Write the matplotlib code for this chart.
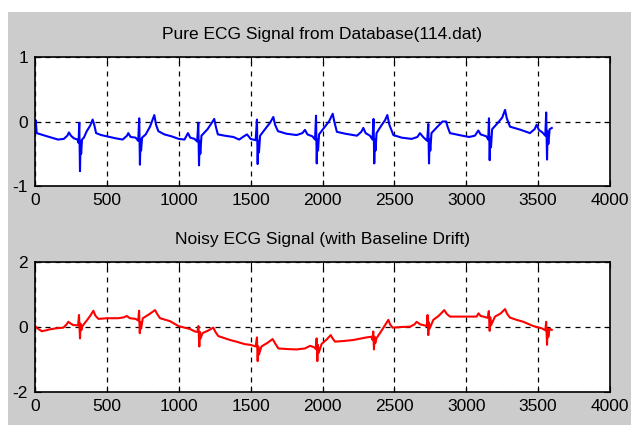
import matplotlib
matplotlib.use("Agg")
import matplotlib.pyplot as plt
from matplotlib.patches import Rectangle

# vertices (sample index, amplitude)
pure_x = [0, 5, 12, 40, 70, 100, 130, 160, 200, 225, 236, 250, 270, 295, 303, 308, 313, 317, 321, 327,
          340, 360, 385, 401, 412, 425, 460, 500, 560, 610, 640, 649, 665, 700, 718, 725, 730, 734, 738, 745,
          770, 800, 830, 842, 858, 900, 950, 1000, 1040, 1064, 1080, 1110, 1128, 1136, 1141, 1145, 1150, 1158,
          1200, 1230, 1247, 1258, 1272, 1320, 1380, 1420, 1460, 1475, 1500, 1535, 1544, 1549, 1553, 1558, 1566,
          1600, 1635, 1658, 1670, 1690, 1750, 1820, 1860, 1878, 1895, 1930, 1948, 1955, 1960, 1964, 1969, 1976,
          2010, 2045, 2071, 2082, 2100, 2160, 2240, 2270, 2284, 2300, 2330, 2348, 2355, 2360, 2364, 2369, 2376,
          2410, 2435, 2451, 2465, 2493, 2550, 2620, 2660, 2678, 2700, 2728, 2736, 2741, 2745, 2750, 2758,
          2800, 2835, 2860, 2870, 2887, 2950, 3020, 3060, 3084, 3100, 3140, 3153, 3158, 3163, 3167, 3172, 3180,
          3220, 3250, 3270, 3282, 3304, 3380, 3443, 3475, 3490, 3505, 3530, 3550, 3556, 3562, 3566, 3571, 3580,
          3595]
pure_y = [0.00, 0.02, -0.18, -0.20, -0.22, -0.24, -0.26, -0.28, -0.27, -0.22, -0.17, -0.22, -0.26, -0.28,
          -0.33, -0.02, -0.77, -0.30, -0.50, -0.28,
          -0.25, -0.15, -0.06, 0.03, -0.05, -0.18, -0.21, -0.23, -0.26, -0.28, -0.22, -0.18, -0.24, -0.25,
          -0.30, 0.05, -0.67, -0.28, -0.45, -0.25,
          -0.20, -0.08, 0.10, -0.05, -0.15, -0.20, -0.23, -0.27, -0.28, -0.18, -0.25, -0.27, -0.31, -0.02,
          -0.68, -0.30, -0.50, -0.22,
          -0.12, -0.02, 0.04, -0.08, -0.20, -0.22, -0.24, -0.28, -0.22, -0.20, -0.27, -0.29, 0.03, -0.66,
          -0.30, -0.48, -0.22,
          -0.12, -0.02, 0.07, -0.05, -0.15, -0.19, -0.21, -0.18, -0.13, -0.20, -0.23, -0.28, 0.09, -0.65,
          -0.28, -0.45, -0.20,
          -0.10, 0.00, 0.12, 0.00, -0.16, -0.19, -0.22, -0.16, -0.10, -0.18, -0.22, -0.28, 0.04, -0.65,
          -0.28, -0.45, -0.18,
          -0.06, 0.02, 0.10, -0.05, -0.21, -0.25, -0.27, -0.24, -0.18, -0.24, -0.30, -0.04, -0.65, -0.28,
          -0.45, -0.18,
          -0.08, 0.00, 0.00, -0.08, -0.18, -0.21, -0.24, -0.22, -0.14, -0.20, -0.23, -0.28, 0.05, -0.60,
          -0.25, -0.40, -0.12,
          -0.02, 0.06, 0.18, 0.05, -0.08, -0.13, -0.18, -0.12, -0.05, -0.13, -0.17, -0.22, 0.14, -0.59,
          -0.15, -0.35, -0.12,
          -0.10]

noisy_x = [0, 20, 47, 80, 104, 150, 197, 220, 232, 250, 266, 300, 306, 313, 317, 322, 330,
           360, 385, 406, 420, 441, 500, 580, 620, 638, 660, 700, 718, 724, 729, 733, 738, 750,
           790, 835, 850, 870, 939, 997, 1040, 1078, 1113, 1130, 1137, 1143, 1147, 1152, 1165,
           1200, 1240, 1255, 1275, 1357, 1400, 1461, 1500, 1535, 1544, 1549, 1553, 1558, 1575,
           1620, 1653, 1670, 1693, 1760, 1820, 1878, 1913, 1940, 1955, 1959, 1964, 1968, 1973, 1994,
           2030, 2057, 2070, 2087, 2150, 2214, 2270, 2307, 2340, 2348, 2353, 2358, 2362, 2367, 2375,
           2420, 2458, 2470, 2488, 2550, 2609, 2640, 2655, 2680, 2701, 2725, 2731, 2736, 2740, 2745, 2771,
           2810, 2847, 2865, 2887, 2980, 3072, 3085, 3100, 3119, 3150, 3157, 3163, 3167, 3172, 3200,
           3240, 3270, 3285, 3304, 3350, 3397, 3466, 3525, 3550, 3556, 3562, 3566, 3571, 3580, 3595]
noisy_y = [0.03, -0.05, -0.13, -0.10, -0.07, -0.04, -0.02, 0.08, 0.16, 0.10, 0.06, 0.05, 0.37, -0.35,
           0.10, -0.10, 0.03,
           0.20, 0.35, 0.50, 0.35, 0.25, 0.27, 0.27, 0.30, 0.34, 0.27, 0.25, 0.20, 0.50, -0.19, 0.15,
           -0.05, 0.27,
           0.38, 0.52, 0.40, 0.27, 0.18, 0.03, -0.02, -0.06, -0.14, -0.15, 0.03, -0.60, -0.15, -0.35, -0.19,
           -0.12, -0.02, -0.15, -0.28, -0.40, -0.45, -0.53, -0.55, -0.60, -0.32, -1.05, -0.60, -0.85, -0.60,
           -0.48, -0.37, -0.50, -0.66, -0.68, -0.69, -0.66, -0.58, -0.62, -0.68, -0.35, -1.05, -0.55, -0.80,
           -0.52,
           -0.38, -0.25, -0.35, -0.45, -0.43, -0.40, -0.35, -0.32, -0.30, -0.40, -0.14, -0.69, -0.30, -0.50,
           -0.35,
           -0.05, 0.22, 0.08, -0.02, 0.00, 0.01, 0.08, 0.16, 0.08, 0.06, 0.03, 0.37, -0.25, 0.15, -0.05, 0.22,
           0.35, 0.52, 0.40, 0.32, 0.32, 0.32, 0.42, 0.34, 0.32, 0.28, 0.49, -0.12, 0.30, 0.05, 0.32,
           0.42, 0.55, 0.40, 0.29, 0.22, 0.16, 0.03, -0.04, -0.10, 0.16, -0.55, -0.05, -0.30, -0.05, -0.09]

titles = ["Pure ECG Signal from Database(114.dat)", "Noisy ECG Signal (with Baseline Drift)"]
x_ticks = [0, 500, 1000, 1500, 2000, 2500, 3000, 3500, 4000]
y_ticks_top = [-1, 0, 1]
y_ticks_bottom = [-2, 0, 2]

plt.rcParams["font.family"] = ["Liberation Sans", "DejaVu Sans"]
plt.rcParams["axes.unicode_minus"] = False

fig = plt.figure(figsize=(6.31, 4.25), dpi=100, facecolor="white")
# grey window area (white strip on top and left in the screenshot)
fig.patches.append(Rectangle((8 / 631, 0), 623 / 631, 413 / 425, transform=fig.transFigure,
                             facecolor="#cccccc", edgecolor="none", zorder=-1))

ax1 = fig.add_axes([35 / 631, 239 / 425, 575 / 631, 129 / 425])
ax2 = fig.add_axes([35 / 631, 33 / 425, 575 / 631, 130 / 425])

panels = [
    (ax1, pure_x, pure_y, "#0000ff", y_ticks_top, titles[0]),
    (ax2, noisy_x, noisy_y, "#ff0000", y_ticks_bottom, titles[1]),
]
for ax, xs, ys, color, yt, title in panels:
    ax.plot(xs, ys, color=color, lw=1.5)
    ax.set_xlim(0, 4000)
    ax.set_ylim(yt[0], yt[-1])
    ax.set_xticks(x_ticks)
    ax.set_yticks(yt)
    ax.set_facecolor("white")
    ax.grid(True, color="black", linestyle=(0, (4, 4)), linewidth=0.9)
    ax.tick_params(direction="in", length=4, labelsize=12.5, pad=5, colors="black",
                   top=True, right=True)
    for sp in ax.spines.values():
        sp.set_linewidth(1.2)
    ax.set_title(title, fontsize=12.5, pad=13)

fig.savefig("out.png", dpi=100, facecolor=fig.get_facecolor())
